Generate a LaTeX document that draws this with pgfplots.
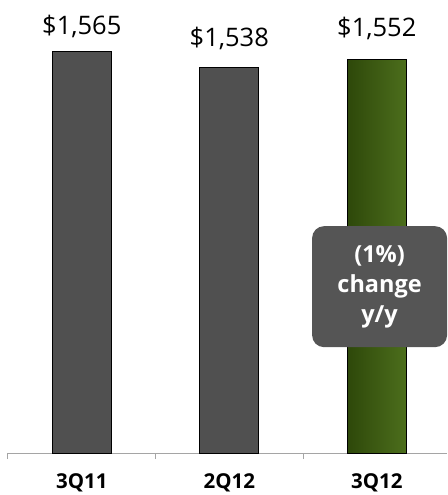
\documentclass[border=0pt]{standalone}
\usepackage{fontspec}
\setmainfont{Open Sans}
\usepackage{pgfplots}
\pgfplotsset{compat=1.18}
\definecolor{bargray}{RGB}{80,80,80}
\definecolor{boxgray}{RGB}{85,85,85}
\definecolor{axisgray}{RGB}{165,165,165}
\definecolor{greenL}{RGB}{46,72,10}
\definecolor{greenR}{RGB}{76,110,28}
\begin{document}
\begin{tikzpicture}
\begin{axis}[
  scale only axis, width=439pt, height=453pt,
  xmin=-0.5, xmax=2.476, ymin=889, ymax=1651.6,
  clip=false,
  axis x line*=bottom, axis y line=none,
  axis line style={draw=axisgray, line width=1pt},
  xtick={0,1,2}, xticklabels={3Q11,2Q12,3Q12},
  minor xtick={-0.5,0.5,1.5},
  major tick length=0pt, minor tick length=6pt, tick align=outside,
  minor tick style={draw=axisgray, line width=1pt},
  xticklabel style={font=\bfseries\fontsize{20.5}{20.5}\selectfont, text=black, anchor=base, yshift=-35pt},
  ybar, bar width=59pt,
  point meta=explicit symbolic,
  nodes near coords,
  every node near coord/.append style={font=\fontsize{25.5}{25.5}\selectfont, text=black, anchor=base},
]
\addplot[bar shift=0pt, fill=bargray, draw=black, line width=1pt,
  every node near coord/.append style={yshift=17pt}] coordinates {(0,1565) [\$1,565]};
\addplot[bar shift=0pt, fill=bargray, draw=black, line width=1pt,
  every node near coord/.append style={yshift=21pt}] coordinates {(1,1538) [\$1,538]};
\addplot[bar shift=0pt, left color=greenL, right color=greenR, draw=black, line width=1pt,
  every node near coord/.append style={yshift=23pt}] coordinates {(2,1552) [\$1,552]};
\node[fill=boxgray, rounded corners=12pt, minimum width=135pt, minimum height=121pt,
  text=white, align=center, font=\bfseries\fontsize{23.5}{30}\selectfont]
  at (axis cs:2.019,1169) {(1\%)\\change\\y/y};
\end{axis}
\pgfresetboundingbox
\path ([xshift=-8pt,yshift=-42pt]current axis.south west) rectangle (current axis.north east);
\end{tikzpicture}
\end{document}
